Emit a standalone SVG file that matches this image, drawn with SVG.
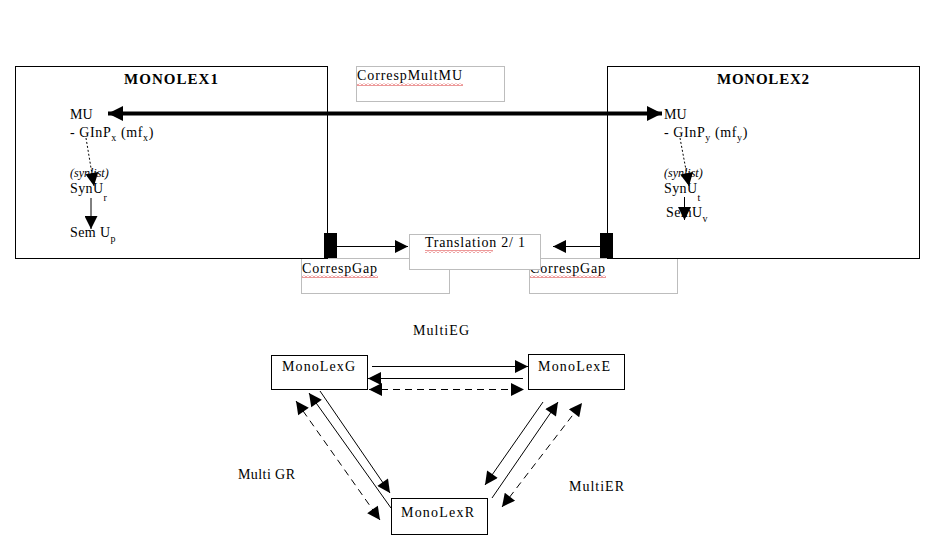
<svg xmlns="http://www.w3.org/2000/svg" width="928" height="543" viewBox="0 0 928 543" font-family="'Liberation Serif', 'DejaVu Serif', serif">
<style>
  text { font-family: "Liberation Serif", "DejaVu Serif", serif; font-size: 14px; fill: #000; }
  .title { font-weight: bold; font-size: 15px; }
  .it { font-style: italic; font-size: 12px; }
  .sub { font-size: 10px; }
  .box { fill: #fff; stroke: #000; stroke-width: 1; }
  .gbox { fill: none; stroke: #bdbdbd; stroke-width: 1; }
  .tbox { fill: #fff; stroke: #bdbdbd; stroke-width: 1; }
  .ln { fill: none; stroke: #000; stroke-width: 1; }
  .dash { stroke-dasharray: 7 5; }
  .dot { stroke-dasharray: 2 2; }
  .squig { fill: url(#wave); }
</style>
<defs>
  <marker id="ah" viewBox="0 0 10 10" refX="10" refY="5" markerWidth="16" markerHeight="13" markerUnits="userSpaceOnUse" orient="auto-start-reverse">
    <path d="M0 0 L10 5 L0 10 z" fill="#000"/>
  </marker>
  <marker id="ahBig" viewBox="0 0 10 10" refX="10" refY="5" markerWidth="15" markerHeight="15" markerUnits="userSpaceOnUse" orient="auto-start-reverse">
    <path d="M0 0 L10 5 L0 10 z" fill="#000"/>
  </marker>
  <pattern id="wave" x="0" y="0" width="4" height="3" patternUnits="userSpaceOnUse">
    <path d="M0 2.5 L2 0.5 L4 2.5" fill="none" stroke="#d00000" stroke-width="0.8"/>
  </pattern>
</defs>
<rect width="928" height="543" fill="#fff"/>

<g id="correspGap1">
  <rect class="gbox" x="301.5" y="258.5" width="148" height="35"/>
  <text x="302" y="273" textLength="75" lengthAdjust="spacing">CorrespGap</text>
  <rect class="squig" x="302" y="275" width="76" height="3"/>
</g>
<g id="correspGap2">
  <rect class="gbox" x="529.5" y="258.5" width="148" height="35"/>
  <text x="530" y="273" textLength="75" lengthAdjust="spacing">CorrespGap</text>
  <rect class="squig" x="530" y="275" width="76" height="3"/>
</g>

<g id="monolex1">
  <rect class="box" x="15.5" y="66.5" width="312" height="192"/>
  <text class="title" x="124" y="84" textLength="94" lengthAdjust="spacing">MONOLEX1</text>
  <text x="70" y="119">MU</text>
  <text x="70" y="137" letter-spacing="0.6">- GInP<tspan class="sub" dy="4">x</tspan><tspan dy="-4"> (mf</tspan><tspan class="sub" dy="4">x</tspan><tspan dy="-4">)</tspan></text>
  <text class="it" x="70" y="177">(synlist)</text>
  <text x="70" y="193" letter-spacing="0.4">SynU<tspan class="sub" dy="8">r</tspan></text>
  <text x="70" y="237" letter-spacing="0.4">Sem U<tspan class="sub" dy="5">p</tspan></text>
  <rect x="324" y="233" width="13" height="25" fill="#000"/>
</g>

<g id="monolex2">
  <rect class="box" x="607.5" y="66.5" width="312" height="192"/>
  <text class="title" x="717" y="84" textLength="92" lengthAdjust="spacing">MONOLEX2</text>
  <text x="664" y="119">MU</text>
  <text x="664" y="137" letter-spacing="0.6">- GInP<tspan class="sub" dy="4">y</tspan><tspan dy="-4"> (mf</tspan><tspan class="sub" dy="4">y</tspan><tspan dy="-4">)</tspan></text>
  <text class="it" x="664" y="177">(synlist)</text>
  <text x="664" y="193" letter-spacing="0.4">SynU<tspan class="sub" dy="8">t</tspan></text>
  <text x="666" y="217" letter-spacing="0.4">SemU<tspan class="sub" dy="5">v</tspan></text>
  <rect x="600" y="233" width="13" height="25" fill="#000"/>
</g>

<g id="correspMultMU">
  <rect class="gbox" x="356.5" y="66.5" width="148" height="35"/>
  <text x="357" y="80" textLength="105" lengthAdjust="spacing">CorrespMultMU</text>
  <rect class="squig" x="357" y="83" width="106" height="3"/>
</g>

<g id="translation">
  <rect class="tbox" x="409.5" y="234.5" width="131" height="35"/>
  <text x="425" y="247" textLength="100" lengthAdjust="spacing">Translation  2/ 1</text>
  <rect class="squig" x="425" y="250" width="68" height="3"/>
</g>

<g id="label-multiEG"><text x="413" y="335" textLength="56" lengthAdjust="spacing">MultiEG</text></g>
<g id="label-multiGR"><text x="238" y="479" textLength="57" lengthAdjust="spacing">Multi GR</text></g>
<g id="label-multiER"><text x="569" y="491" textLength="55" lengthAdjust="spacing">MultiER</text></g>

<g id="monoLexG">
  <rect class="box" x="271.5" y="355.5" width="96" height="34"/>
  <text x="282" y="371" textLength="73" lengthAdjust="spacing">MonoLexG</text>
</g>
<g id="monoLexE">
  <rect class="box" x="528.5" y="354.5" width="96" height="35"/>
  <text x="538" y="371" textLength="72" lengthAdjust="spacing">MonoLexE</text>
</g>
<g id="monoLexR">
  <rect class="box" x="391.5" y="498.5" width="96" height="36"/>
  <text x="401" y="517" textLength="73" lengthAdjust="spacing">MonoLexR</text>
</g>

<g id="connectors">
  <line x1="108" y1="113.5" x2="662" y2="113.5" stroke="#000" stroke-width="4" marker-start="url(#ahBig)" marker-end="url(#ahBig)"/>
  <line class="ln dot" x1="86" y1="138" x2="94" y2="186" marker-end="url(#ah)"/>
  <line class="ln" x1="91" y1="198" x2="91" y2="229" marker-end="url(#ah)"/>
  <line class="ln dot" x1="680" y1="138" x2="689" y2="186" marker-end="url(#ah)"/>
  <line class="ln" x1="684.5" y1="197" x2="684.5" y2="220" marker-end="url(#ah)"/>
  <line class="ln" x1="337" y1="246.5" x2="408" y2="246.5" marker-end="url(#ah)"/>
  <line class="ln" x1="600" y1="246.5" x2="553" y2="246.5" marker-end="url(#ah)"/>

  <line class="ln" x1="372" y1="366.5" x2="528" y2="366.5" marker-end="url(#ah)"/>
  <line class="ln" x1="523" y1="378.5" x2="368" y2="378.5" marker-end="url(#ah)"/>
  <line class="ln dash" x1="369" y1="389.5" x2="524" y2="389.5" marker-start="url(#ah)" marker-end="url(#ah)"/>

  <line class="ln" x1="320" y1="391" x2="390" y2="493" marker-end="url(#ah)"/>
  <line class="ln" x1="391" y1="508" x2="309" y2="393" marker-end="url(#ah)"/>
  <line class="ln dash" x1="296" y1="401" x2="380" y2="520" marker-start="url(#ah)" marker-end="url(#ah)"/>

  <line class="ln" x1="543" y1="402" x2="485" y2="485" marker-end="url(#ah)"/>
  <line class="ln" x1="492" y1="498" x2="558" y2="402" marker-end="url(#ah)"/>
  <line class="ln dash" x1="502" y1="507" x2="582" y2="403" marker-start="url(#ah)" marker-end="url(#ah)"/>
</g>
</svg>
